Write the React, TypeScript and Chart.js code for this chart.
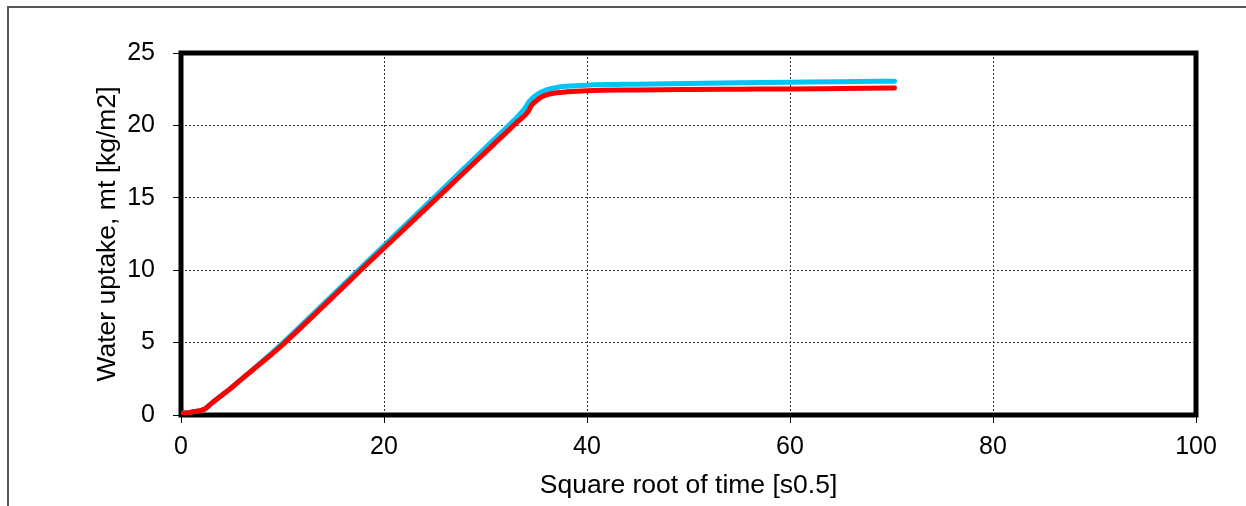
import { useEffect, useRef } from 'react';
import { Chart, registerables } from 'chart.js';

Chart.register(...registerables);

const redTime = [0, 1, 2.3, 3, 4, 5, 6, 8, 10, 14, 18, 22, 26, 30, 33, 34.2, 34.5, 35, 35.5, 36, 37, 38, 40, 45, 50, 55, 60, 65, 70.3];
const redUptake = [0.1, 0.2, 0.4, 0.8, 1.35, 1.9, 2.5, 3.65, 4.85, 7.5, 10.2, 12.85, 15.5, 18.15, 20.15, 20.95, 21.35, 21.7, 21.95, 22.1, 22.25, 22.32, 22.4, 22.45, 22.48, 22.5, 22.52, 22.55, 22.58];

const blueTime = [0, 1, 2.3, 3, 4, 5, 6, 8, 10, 14, 18, 22, 26, 30, 32.8, 33.9, 34.3, 35, 36, 37, 38, 40, 45, 50, 55, 60, 65, 70.3];
const blueUptake = [0.1, 0.2, 0.4, 0.8, 1.35, 1.9, 2.5, 3.7, 4.95, 7.65, 10.35, 13.05, 15.75, 18.45, 20.35, 21.2, 21.65, 22.1, 22.45, 22.62, 22.7, 22.78, 22.85, 22.9, 22.94, 22.98, 23.02, 23.05];

const xRange = [0, 100];
const xStep = 20;
const yRange = [0, 25];
const yStep = 5;
const xTitle = 'Square root of time [s0.5]';
const yTitle = 'Water uptake, mt [kg/m2]';

const FONT = "'Liberation Sans', Arial, sans-serif";

const framePlugin = {
  id: 'frame',
  beforeDatasetsDraw(chart: any) {
    const { ctx, chartArea } = chart;
    const { left, top, right, bottom } = chartArea;
    ctx.save();
    ctx.strokeStyle = '#000';
    ctx.lineWidth = 5;
    ctx.lineJoin = 'miter';
    ctx.strokeRect(left, top, right - left, bottom - top);
    ctx.restore();
  },
};

export default function App() {
  const ref = useRef<HTMLCanvasElement | null>(null);

  useEffect(() => {
    document.documentElement.style.overflow = 'hidden';
    const canvas = ref.current;
    if (!canvas) return;
    const toPts = (xs: number[], ys: number[]) => xs.map((x, i) => ({ x, y: ys[i] }));
    const chart = new Chart(canvas, {
      type: 'line',
      data: {
        datasets: [
          {
            label: 'red',
            data: toPts(redTime, redUptake),
            borderColor: '#ff0000',
            borderWidth: 5,
            pointRadius: 0,
            cubicInterpolationMode: 'monotone',
            borderCapStyle: 'round',
            borderJoinStyle: 'round',
            fill: false,
          },
          {
            label: 'blue',
            data: toPts(blueTime, blueUptake),
            borderColor: '#00c4f5',
            borderWidth: 5,
            pointRadius: 0,
            cubicInterpolationMode: 'monotone',
            borderCapStyle: 'round',
            borderJoinStyle: 'round',
            fill: false,
          },
        ],
      },
      options: {
        animation: false,
        responsive: false,
        maintainAspectRatio: false,
        layout: { padding: { left: 80, top: 46, right: 50, bottom: 0 } },
        plugins: {
          legend: { display: false },
          tooltip: { enabled: false },
        },
        scales: {
          x: {
            type: 'linear',
            min: xRange[0],
            max: xRange[1],
            ticks: {
              stepSize: xStep,
              color: '#000',
              font: { family: FONT, size: 25 },
              padding: 9,
              maxRotation: 0,
            },
            grid: { color: '#333', tickLength: 8, tickColor: '#000', lineWidth: 1 },
            border: { display: false, dash: [2, 2] },
            title: {
              display: true,
              text: xTitle,
              color: '#000',
              font: { family: FONT, size: 26.5 },
            },
            afterFit(scale: any) {
              scale.height = 91;
            },
          },
          y: {
            type: 'linear',
            min: yRange[0],
            max: yRange[1],
            ticks: {
              stepSize: yStep,
              color: '#000',
              font: { family: FONT, size: 25 },
              padding: 18,
            },
            grid: { color: '#333', tickLength: 8, tickColor: '#000', lineWidth: 1 },
            border: { display: false, dash: [2, 2] },
            title: {
              display: true,
              text: yTitle,
              color: '#000',
              font: { family: FONT, size: 26.5 },
            },
            afterFit(scale: any) {
              scale.width = 93;
            },
          },
        },
      },
      plugins: [framePlugin],
    } as any);
    return () => chart.destroy();
  }, []);

  return (
    <div
      style={{
        position: 'absolute',
        left: 7,
        top: 6,
        width: 1239,
        height: 500,
        borderTop: '2px solid #555',
        borderLeft: '2px solid #555',
        boxSizing: 'border-box',
      }}
    >
      <canvas
        ref={ref}
        width={1238}
        height={499}
        style={{ position: 'absolute', left: -1, top: -1, display: 'block', width: 1238, height: 499 }}
      />
    </div>
  );
}
